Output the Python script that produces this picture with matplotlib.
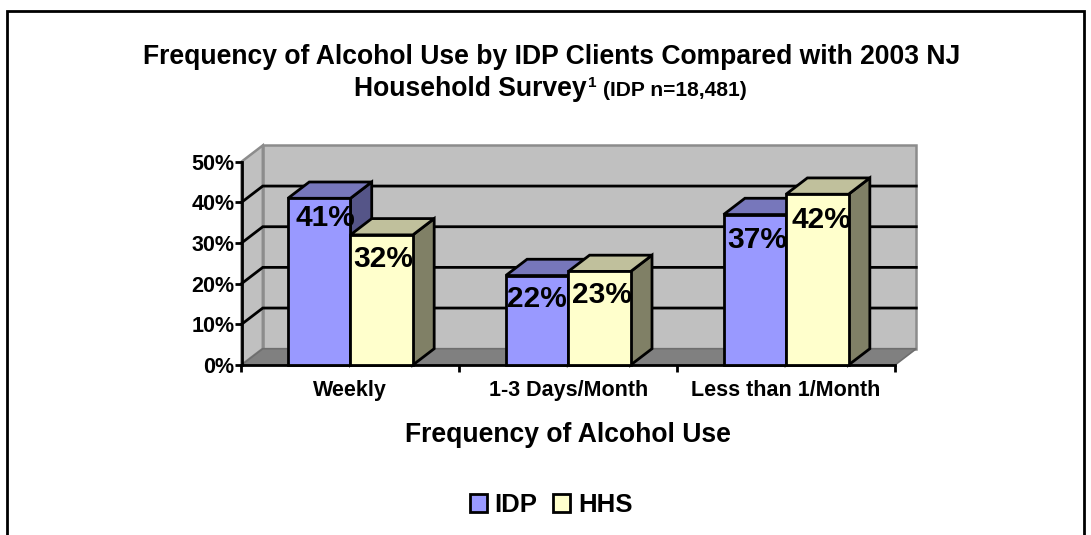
import matplotlib
matplotlib.use("Agg")
import matplotlib.pyplot as plt
from matplotlib.patches import Polygon, Patch, Rectangle

categories = ["Weekly", "1-3 Days/Month", "Less than 1/Month"]
series_names = ["IDP", "HHS"]
idp_values = [41, 22, 37]
hhs_values = [32, 23, 42]
y_ticks = [0, 10, 20, 30, 40, 50]
label_nudges = [[(6, -20), (2, -24)], [(0, -23), (2, -24)], [(2, -25), (4, -26)]]

plt.rcParams['font.family'] = ['Liberation Sans', 'DejaVu Sans']
W, H = 1091, 535
fig = plt.figure(figsize=(W / 100, H / 100), dpi=100, facecolor='white')
L, R, T, B = 241.5, 895.0, 161.7, 365.0
ax = fig.add_axes([L / W, 1 - B / H, (R - L) / W, (B - T) / H], facecolor='none')
ax.set_xlim(-0.5, 2.5)
ax.set_ylim(0, 50)

# depth of the 3D box, in data units
dx = 21.3 / ((R - L) / 3)
dy = 16.3 / ((B - T) / 50)
bar_w = 0.2867
WALL, WALL_E, FLOOR = '#c0c0c0', '#8c8c8c', '#808080'
xa, xb = -0.5, 2.5

def poly(pts, fc, ec='black', lw=2.0, z=2):
    ax.add_patch(Polygon(pts, closed=True, facecolor=fc, edgecolor=ec, linewidth=lw,
                         zorder=z, clip_on=False, joinstyle='miter'))

# walls and floor
poly([(xa + dx, dy), (xb + dx, dy), (xb + dx, 50 + dy), (xa + dx, 50 + dy)], WALL, WALL_E, 1.8, 1)
poly([(xa, 0), (xa + dx, dy), (xa + dx, 50 + dy), (xa, 50)], WALL, WALL_E, 1.8, 1)
poly([(xa, 0), (xb, 0), (xb + dx, dy), (xa + dx, dy)], FLOOR, '#6e6e6e', 1.2, 1)
for t in y_ticks[1:-1]:
    ax.plot([xa, xa + dx, xb + dx], [t, t + dy, t + dy], color='black', lw=2.0, zorder=1.5,
            clip_on=False, solid_joinstyle='miter')

palette = {
    "IDP": ('#9999ff', '#7777bb', '#555588'),
    "HHS": ('#ffffcc', '#c0c09c', '#808066'),
}

def bar3d(x0, v, cols, z):
    x1 = x0 + bar_w
    poly([(x1, 0), (x1 + dx, dy), (x1 + dx, v + dy), (x1, v)], cols[2], z=z)
    poly([(x0, v), (x1, v), (x1 + dx, v + dy), (x0 + dx, v + dy)], cols[1], z=z)
    poly([(x0, 0), (x1, 0), (x1, v), (x0, v)], cols[0], z=z)

for i in range(len(categories)):
    bar3d(i - bar_w, idp_values[i], palette["IDP"], 3 + i)
    bar3d(i, hhs_values[i], palette["HHS"], 3.5 + i)
    for j, (xs, v) in enumerate([(i - bar_w, idp_values[i]), (i, hhs_values[i])]):
        ax.annotate(f"{v}%", (xs + bar_w / 2, v), xytext=label_nudges[i][j],
                    textcoords='offset pixels', ha='center', va='center',
                    fontsize=21.5, fontweight='bold', color='black', zorder=10,
                    annotation_clip=False)

# axes
for s in ('top', 'right'):
    ax.spines[s].set_visible(False)
for s in ('left', 'bottom'):
    ax.spines[s].set_linewidth(2.0)
    ax.spines[s].set_zorder(2.5)
ax.set_yticks(y_ticks)
ax.set_yticklabels([f"{t}%" for t in y_ticks], fontsize=15.5, fontweight='bold')
ax.tick_params(axis='y', length=5, width=2, pad=0)
ax.set_xticks([-0.5, 0.5, 1.5, 2.5])
ax.set_xticklabels([])
ax.tick_params(axis='x', which='major', length=5, width=2)
ax.set_xticks([0, 1, 2], minor=True)
ax.set_xticklabels(categories, minor=True, fontsize=15.5, fontweight='bold')
ax.tick_params(axis='x', which='minor', length=0, pad=11)
ax.set_xlabel("Frequency of Alcohol Use", fontsize=19.1, fontweight='bold', labelpad=15)

# titles
def ftext(x, y, s, size, **kw):
    return fig.text(x / W, 1 - y / H, s, fontsize=size, fontweight='bold', **kw)

ftext(552, 57, "Frequency of Alcohol Use by IDP Clients Compared with 2003 NJ", 19.1, ha='center', va='center')
ftext(354, 89, "Household Survey", 19.1, ha='left', va='center')
ftext(588, 83, "1", 11, ha='left', va='center')
ftext(603, 90, "(IDP n=18,481)", 15.1, ha='left', va='center')

# legend
handles = [Patch(facecolor=palette[n][0], edgecolor='black', linewidth=2) for n in series_names]
fig.legend(handles, series_names, loc='center', bbox_to_anchor=(551 / W, 1 - 505 / H), ncol=2,
           frameon=False, prop={'size': 18.5, 'weight': 'bold'}, handlelength=0.66, handleheight=0.66,
           handletextpad=0.3, columnspacing=0.62, borderpad=0)

# chart frame
fig.add_artist(Rectangle((7 / W, -10 / H), (1084 - 7) / W, (H - 10.5 + 10) / H, transform=fig.transFigure,
                         facecolor='none', edgecolor='black', linewidth=2))

fig.savefig("out.png", dpi=100)
